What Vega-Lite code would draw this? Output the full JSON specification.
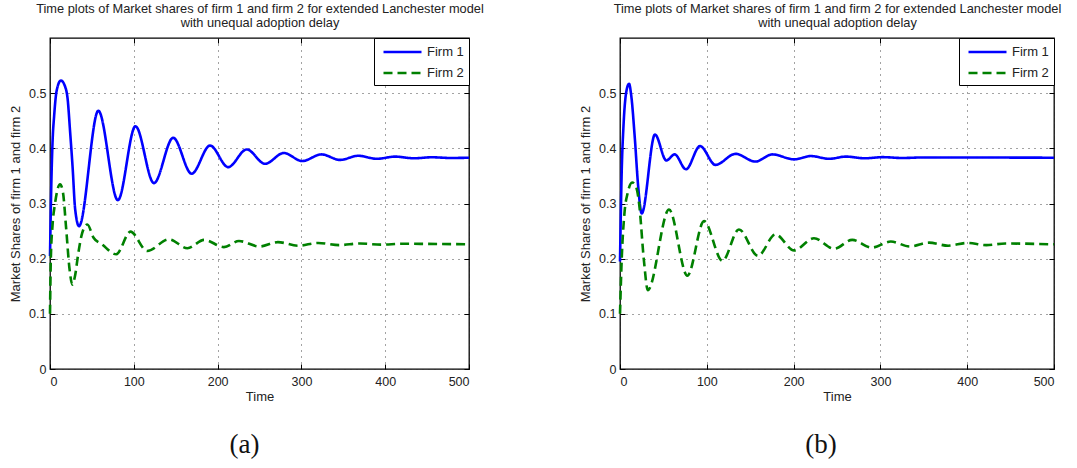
{
  "$schema": "https://vega.github.io/schema/vega-lite/v6.json",
  "background": "white",
  "padding": {"left": 8, "top": 1, "right": 0, "bottom": 0},
  "spacing": 151,
  "bounds": "flush",
  "resolve": {"scale": {"color": "independent", "strokeDash": "independent"}, "legend": {"color": "independent", "strokeDash": "independent"}},
  "config": {
    "font": "Liberation Sans",
    "view": {"stroke": "black", "strokeWidth": 1.3},
    "axis": {
      "domain": false,
      "tickColor": "black",
      "tickSize": -5,
      "tickWidth": 1,
      "labelFont": "Liberation Sans",
      "labelFontSize": 12.5,
      "labelColor": "#222",
      "titleFont": "Liberation Sans",
      "titleFontSize": 13,
      "titleFontWeight": "normal",
      "titleColor": "#222",
      "gridColor": "#333",
      "gridDash": [1, 5],
      "gridWidth": 1,
      "gridOpacity": 0.9
    },
    "legend": {
      "orient": "top-right",
      "offset": 0,
      "strokeColor": "black",
      "fillColor": "white",
      "padding": 5,
      "symbolType": "M-0.6,0H4.4667",
      "symbolSize": 225,
      "symbolStrokeWidth": 2.5,
      "labelFont": "Liberation Sans",
      "labelFontSize": 13,
      "labelColor": "#222",
      "labelOffset": 30,
      "rowPadding": 5,
      "title": null
    }
  },
  "datasets": {
    "a": [
      {"t": 0, "v": 0.205, "firm": "Firm 1"},
      {"t": 1.5, "v": 0.33, "firm": "Firm 1"},
      {"t": 3, "v": 0.41, "firm": "Firm 1"},
      {"t": 5, "v": 0.46, "firm": "Firm 1"},
      {"t": 8, "v": 0.505, "firm": "Firm 1"},
      {"t": 13, "v": 0.523, "firm": "Firm 1"},
      {"t": 18, "v": 0.512, "firm": "Firm 1"},
      {"t": 21, "v": 0.49, "firm": "Firm 1"},
      {"t": 24, "v": 0.43, "firm": "Firm 1"},
      {"t": 27, "v": 0.365, "firm": "Firm 1"},
      {"t": 30, "v": 0.29, "firm": "Firm 1"},
      {"t": 34.6, "v": 0.259, "firm": "Firm 1"},
      {"t": 57.7, "v": 0.468, "firm": "Firm 1"},
      {"t": 81, "v": 0.306, "firm": "Firm 1"},
      {"t": 102, "v": 0.44, "firm": "Firm 1"},
      {"t": 124, "v": 0.337, "firm": "Firm 1"},
      {"t": 147, "v": 0.419, "firm": "Firm 1"},
      {"t": 169, "v": 0.354, "firm": "Firm 1"},
      {"t": 191, "v": 0.405, "firm": "Firm 1"},
      {"t": 212.6, "v": 0.366, "firm": "Firm 1"},
      {"t": 234.7, "v": 0.398, "firm": "Firm 1"},
      {"t": 256.6, "v": 0.372, "firm": "Firm 1"},
      {"t": 279, "v": 0.3915, "firm": "Firm 1"},
      {"t": 301, "v": 0.377, "firm": "Firm 1"},
      {"t": 324, "v": 0.389, "firm": "Firm 1"},
      {"t": 346, "v": 0.379, "firm": "Firm 1"},
      {"t": 368, "v": 0.3865, "firm": "Firm 1"},
      {"t": 390, "v": 0.381, "firm": "Firm 1"},
      {"t": 412, "v": 0.385, "firm": "Firm 1"},
      {"t": 434, "v": 0.382, "firm": "Firm 1"},
      {"t": 456, "v": 0.3838, "firm": "Firm 1"},
      {"t": 478, "v": 0.3825, "firm": "Firm 1"},
      {"t": 500, "v": 0.383, "firm": "Firm 1"},
      {"t": 0, "v": 0.1, "firm": "Firm 2"},
      {"t": 1, "v": 0.2, "firm": "Firm 2"},
      {"t": 3, "v": 0.26, "firm": "Firm 2"},
      {"t": 6, "v": 0.3, "firm": "Firm 2"},
      {"t": 12, "v": 0.335, "firm": "Firm 2"},
      {"t": 15.5, "v": 0.32, "firm": "Firm 2"},
      {"t": 19, "v": 0.26, "firm": "Firm 2"},
      {"t": 23.4, "v": 0.18, "firm": "Firm 2"},
      {"t": 26.6, "v": 0.153, "firm": "Firm 2"},
      {"t": 30, "v": 0.17, "firm": "Firm 2"},
      {"t": 33.6, "v": 0.208, "firm": "Firm 2"},
      {"t": 38.3, "v": 0.246, "firm": "Firm 2"},
      {"t": 44.5, "v": 0.262, "firm": "Firm 2"},
      {"t": 52, "v": 0.238, "firm": "Firm 2"},
      {"t": 62, "v": 0.226, "firm": "Firm 2"},
      {"t": 79, "v": 0.208, "firm": "Firm 2"},
      {"t": 96, "v": 0.249, "firm": "Firm 2"},
      {"t": 116, "v": 0.214, "firm": "Firm 2"},
      {"t": 142, "v": 0.235, "firm": "Firm 2"},
      {"t": 164, "v": 0.219, "firm": "Firm 2"},
      {"t": 184, "v": 0.234, "firm": "Firm 2"},
      {"t": 207.6, "v": 0.221, "firm": "Firm 2"},
      {"t": 225.5, "v": 0.232, "firm": "Firm 2"},
      {"t": 250, "v": 0.222, "firm": "Firm 2"},
      {"t": 272, "v": 0.23, "firm": "Firm 2"},
      {"t": 296, "v": 0.2235, "firm": "Firm 2"},
      {"t": 320, "v": 0.2285, "firm": "Firm 2"},
      {"t": 345, "v": 0.2245, "firm": "Firm 2"},
      {"t": 370, "v": 0.2275, "firm": "Firm 2"},
      {"t": 395, "v": 0.2255, "firm": "Firm 2"},
      {"t": 420, "v": 0.227, "firm": "Firm 2"},
      {"t": 500, "v": 0.226, "firm": "Firm 2"}
    ],
    "b": [
      {"t": 0, "v": 0.195, "firm": "Firm 1"},
      {"t": 2, "v": 0.36, "firm": "Firm 1"},
      {"t": 4, "v": 0.44, "firm": "Firm 1"},
      {"t": 7, "v": 0.5, "firm": "Firm 1"},
      {"t": 10.4, "v": 0.517, "firm": "Firm 1"},
      {"t": 13, "v": 0.495, "firm": "Firm 1"},
      {"t": 17, "v": 0.42, "firm": "Firm 1"},
      {"t": 21, "v": 0.33, "firm": "Firm 1"},
      {"t": 25, "v": 0.282, "firm": "Firm 1"},
      {"t": 40.3, "v": 0.425, "firm": "Firm 1"},
      {"t": 53.4, "v": 0.378, "firm": "Firm 1"},
      {"t": 63, "v": 0.389, "firm": "Firm 1"},
      {"t": 76, "v": 0.362, "firm": "Firm 1"},
      {"t": 92.2, "v": 0.404, "firm": "Firm 1"},
      {"t": 110, "v": 0.37, "firm": "Firm 1"},
      {"t": 133, "v": 0.39, "firm": "Firm 1"},
      {"t": 156, "v": 0.376, "firm": "Firm 1"},
      {"t": 175.5, "v": 0.389, "firm": "Firm 1"},
      {"t": 200.5, "v": 0.38, "firm": "Firm 1"},
      {"t": 220, "v": 0.386, "firm": "Firm 1"},
      {"t": 241, "v": 0.381, "firm": "Firm 1"},
      {"t": 260, "v": 0.385, "firm": "Firm 1"},
      {"t": 282, "v": 0.382, "firm": "Firm 1"},
      {"t": 303, "v": 0.384, "firm": "Firm 1"},
      {"t": 325, "v": 0.3825, "firm": "Firm 1"},
      {"t": 350, "v": 0.3835, "firm": "Firm 1"},
      {"t": 500, "v": 0.383, "firm": "Firm 1"},
      {"t": 0, "v": 0.1, "firm": "Firm 2"},
      {"t": 2, "v": 0.2, "firm": "Firm 2"},
      {"t": 5, "v": 0.28, "firm": "Firm 2"},
      {"t": 9, "v": 0.32, "firm": "Firm 2"},
      {"t": 14, "v": 0.338, "firm": "Firm 2"},
      {"t": 18.5, "v": 0.33, "firm": "Firm 2"},
      {"t": 22, "v": 0.3, "firm": "Firm 2"},
      {"t": 27.6, "v": 0.196, "firm": "Firm 2"},
      {"t": 32, "v": 0.143, "firm": "Firm 2"},
      {"t": 56.5, "v": 0.289, "firm": "Firm 2"},
      {"t": 77.6, "v": 0.169, "firm": "Firm 2"},
      {"t": 96.8, "v": 0.268, "firm": "Firm 2"},
      {"t": 118, "v": 0.196, "firm": "Firm 2"},
      {"t": 137, "v": 0.253, "firm": "Firm 2"},
      {"t": 159, "v": 0.205, "firm": "Firm 2"},
      {"t": 179, "v": 0.244, "firm": "Firm 2"},
      {"t": 200.5, "v": 0.215, "firm": "Firm 2"},
      {"t": 223.5, "v": 0.237, "firm": "Firm 2"},
      {"t": 246.5, "v": 0.218, "firm": "Firm 2"},
      {"t": 267.6, "v": 0.234, "firm": "Firm 2"},
      {"t": 290, "v": 0.22, "firm": "Firm 2"},
      {"t": 312, "v": 0.231, "firm": "Firm 2"},
      {"t": 334, "v": 0.222, "firm": "Firm 2"},
      {"t": 356, "v": 0.229, "firm": "Firm 2"},
      {"t": 378, "v": 0.2235, "firm": "Firm 2"},
      {"t": 400, "v": 0.2285, "firm": "Firm 2"},
      {"t": 422, "v": 0.2245, "firm": "Firm 2"},
      {"t": 444, "v": 0.2275, "firm": "Firm 2"},
      {"t": 500, "v": 0.226, "firm": "Firm 2"}
    ]
  },
  "hconcat": [
    {
      "width": 419,
      "height": 331,
      "title": {"text": "(a)", "orient": "bottom", "font": "Liberation Serif", "fontSize": 27, "fontWeight": "normal", "color": "#111", "offset": 28, "dx": -15},
      "data": {"name": "a"},
      "layer": [
        {
          "mark": {"type": "line", "strokeWidth": 2.6, "interpolate": "monotone"},
          "encoding": {
            "x": {"field": "t", "type": "quantitative", "scale": {"domain": [0, 500], "nice": false},
                  "axis": {"values": [0, 100, 200, 300, 400, 500], "title": "Time", "grid": true, "labelPadding": 11, "titlePadding": 3}},
            "y": {"field": "v", "type": "quantitative", "scale": {"domain": [0, 0.6], "nice": false},
                  "axis": {"values": [0, 0.1, 0.2, 0.3, 0.4, 0.5], "format": ".1~f", "title": "Market Shares of firm 1 and firm 2", "grid": true, "labelPadding": 9, "titlePadding": 6.5}},
            "color": {"field": "firm", "type": "nominal", "scale": {"domain": ["Firm 1", "Firm 2"], "range": ["#0000ff", "#008000"]}, "legend": {"title": null}},
            "strokeDash": {"field": "firm", "type": "nominal", "scale": {"domain": ["Firm 1", "Firm 2"], "range": [[1, 0], [9, 5]]}, "legend": {"title": null}}
          }
        },
        {
          "mark": {"type": "point", "opacity": 0},
          "encoding": {
            "x": {"field": "t", "type": "quantitative", "scale": {"domain": [0, 500], "nice": false},
                  "axis": {"orient": "top", "values": [0, 100, 200, 300, 400, 500], "labels": false, "grid": false, "title": ["Time plots of Market shares of firm 1 and firm 2 for extended Lanchester model", "with unequal adoption delay"], "titleFontSize": 12.8, "titleLineHeight": 14, "titlePadding": 8}},
            "y": {"field": "v", "type": "quantitative", "scale": {"domain": [0, 0.6], "nice": false},
                  "axis": {"orient": "right", "values": [0, 0.1, 0.2, 0.3, 0.4, 0.5], "labels": false, "grid": false, "title": null}}
          }
        }
      ],
      "resolve": {"axis": {"x": "independent", "y": "independent"}}
    },
    {
      "width": 434,
      "height": 331,
      "title": {"text": "(b)", "orient": "bottom", "font": "Liberation Serif", "fontSize": 27, "fontWeight": "normal", "color": "#111", "offset": 28, "dx": -16},
      "data": {"name": "b"},
      "layer": [
        {
          "mark": {"type": "line", "strokeWidth": 2.6, "interpolate": "monotone"},
          "encoding": {
            "x": {"field": "t", "type": "quantitative", "scale": {"domain": [0, 500], "nice": false},
                  "axis": {"values": [0, 100, 200, 300, 400, 500], "title": "Time", "grid": true, "labelPadding": 11, "titlePadding": 3}},
            "y": {"field": "v", "type": "quantitative", "scale": {"domain": [0, 0.6], "nice": false},
                  "axis": {"values": [0, 0.1, 0.2, 0.3, 0.4, 0.5], "format": ".1~f", "title": "Market Shares of firm 1 and firm 2", "grid": true, "labelPadding": 9, "titlePadding": 6.5}},
            "color": {"field": "firm", "type": "nominal", "scale": {"domain": ["Firm 1", "Firm 2"], "range": ["#0000ff", "#008000"]}, "legend": {"title": null}},
            "strokeDash": {"field": "firm", "type": "nominal", "scale": {"domain": ["Firm 1", "Firm 2"], "range": [[1, 0], [9, 5]]}, "legend": {"title": null}}
          }
        },
        {
          "mark": {"type": "point", "opacity": 0},
          "encoding": {
            "x": {"field": "t", "type": "quantitative", "scale": {"domain": [0, 500], "nice": false},
                  "axis": {"orient": "top", "values": [0, 100, 200, 300, 400, 500], "labels": false, "grid": false, "title": ["Time plots of Market shares of firm 1 and firm 2 for extended Lanchester model", "with unequal adoption delay"], "titleFontSize": 12.8, "titleLineHeight": 14, "titlePadding": 8}},
            "y": {"field": "v", "type": "quantitative", "scale": {"domain": [0, 0.6], "nice": false},
                  "axis": {"orient": "right", "values": [0, 0.1, 0.2, 0.3, 0.4, 0.5], "labels": false, "grid": false, "title": null}}
          }
        }
      ],
      "resolve": {"axis": {"x": "independent", "y": "independent"}}
    }
  ]
}
